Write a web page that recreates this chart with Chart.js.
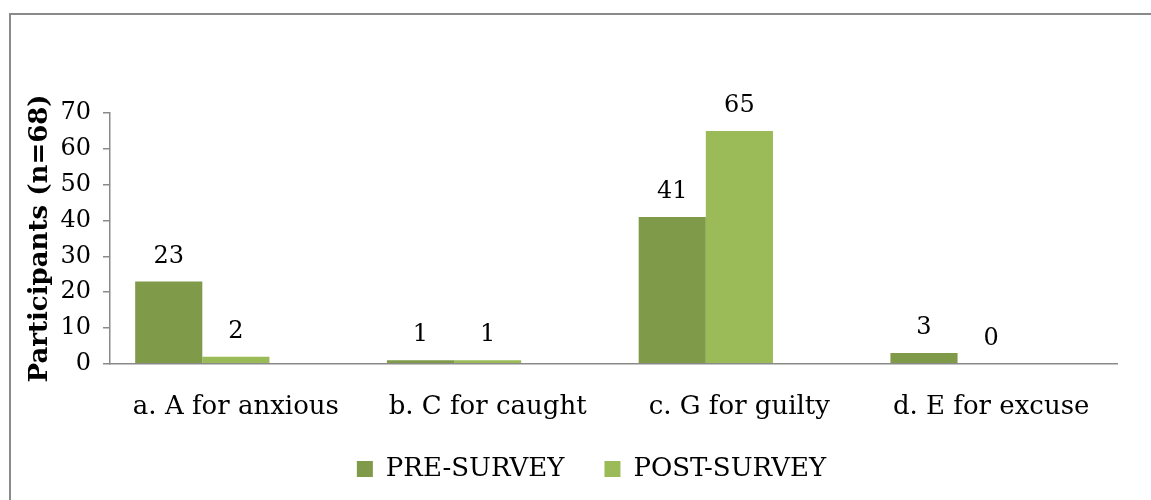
<!DOCTYPE html>
<html lang="en">
<head>
    <meta charset="UTF-8">
    <script src="https://cdn.jsdelivr.net/npm/chart.js@4"></script>
    <title>Participants</title>
    <style>
        html, body { margin: 0; padding: 0; background: #fff; }
        .frame { position: absolute; left: 9px; top: 13px; width: 1142px; height: 487px;
                 border-left: 2px solid #8a8a8a; border-top: 2px solid #8a8a8a; }
        .wrap { position: absolute; left: 0; top: 0; width: 1151px; height: 500px; }
    </style>
</head>
<body>
    <div class="frame"></div>
    <div class="wrap"><canvas id="chart1" width="1151" height="500"></canvas></div>

    <script>
        var categories = ['a. A for anxious', 'b. C for caught', 'c. G for guilty', 'd. E for excuse'];
        var preSurvey = [23, 1, 41, 3];
        var postSurvey = [2, 1, 65, 0];
        var emptySeries = [null, null, null, null];   // 3rd (blank) series in the original sheet
        var yTicks = [0, 10, 20, 30, 40, 50, 60, 70];

        var font = 'DejaVu Serif';

        // value labels above the bars
        var valueLabels = {
            id: 'valueLabels',
            afterDatasetsDraw(chart) {
                var ctx = chart.ctx;
                ctx.save();
                ctx.font = '24px "' + font + '"';
                ctx.fillStyle = '#000';
                ctx.textAlign = 'center';
                ctx.textBaseline = 'middle';
                chart.data.datasets.forEach((ds, i) => {
                    chart.getDatasetMeta(i).data.forEach((bar, j) => {
                        if (ds.data[j] == null) return;
                        ctx.fillText(ds.data[j], bar.x, bar.y - 25);
                    });
                });
                ctx.restore();
            }
        };

        // legend padding is also the horizontal gap between items (40px here),
        // so take some of that height back and nudge the box up / right
        var legendTweak = {
            id: 'legendTweak',
            beforeInit(chart) {
                var fit = chart.legend.fit;
                chart.legend.fit = function () {
                    fit.call(this);
                    this.height -= 27;
                };
            },
            afterLayout(chart) {
                var lg = chart.legend;
                lg.top -= 27;
                lg.left += 26;
                lg.right += 26;
            }
        };

        var ctx = document.getElementById('chart1').getContext('2d');
        var myChart = new Chart(ctx, {
            type: 'bar',
            data: {
                labels: categories,
                datasets: [{
                    label: 'PRE-SURVEY',
                    data: preSurvey,
                    backgroundColor: '#7f9a48'
                }, {
                    label: 'POST-SURVEY',
                    data: postSurvey,
                    backgroundColor: '#9bbb59'
                }, {
                    label: '',
                    data: emptySeries,
                    backgroundColor: '#4f81bd'
                }]
            },
            options: {
                responsive: false,
                animation: false,
                layout: { padding: { left: 14, top: 113, right: 34, bottom: 8 } },
                datasets: { bar: { categoryPercentage: 0.8, barPercentage: 1 } },
                plugins: {
                    legend: {
                        position: 'bottom',
                        labels: {
                            filter: item => item.text !== '',
                            boxWidth: 16,
                            boxHeight: 16,
                            padding: 40,
                            color: '#000',
                            font: { family: font, size: 26 }
                        }
                    },
                    tooltip: { enabled: false }
                },
                scales: {
                    x: {
                        grid: { display: false },
                        border: { color: '#8a8a8a', width: 1.5 },
                        ticks: { color: '#000', padding: 20, font: { family: font, size: 26 } }
                    },
                    y: {
                        min: 0,
                        max: 70,
                        afterBuildTicks: s => { s.ticks = yTicks.map(v => ({ value: v })); },
                        afterFit: s => { s.width = 96; },
                        grid: { drawOnChartArea: false, tickLength: 7, color: '#8a8a8a', lineWidth: 1.5 },
                        border: { color: '#8a8a8a', width: 1.5 },
                        ticks: { color: '#000', padding: 12, font: { family: font, size: 24 } },
                        title: {
                            display: true,
                            text: 'Participants (n=68)',
                            color: '#000',
                            padding: { top: 11, bottom: 0 },
                            font: { family: font, size: 26, weight: 'bold' }
                        }
                    }
                }
            },
            plugins: [valueLabels, legendTweak]
        });
    </script>
</body>
</html>
